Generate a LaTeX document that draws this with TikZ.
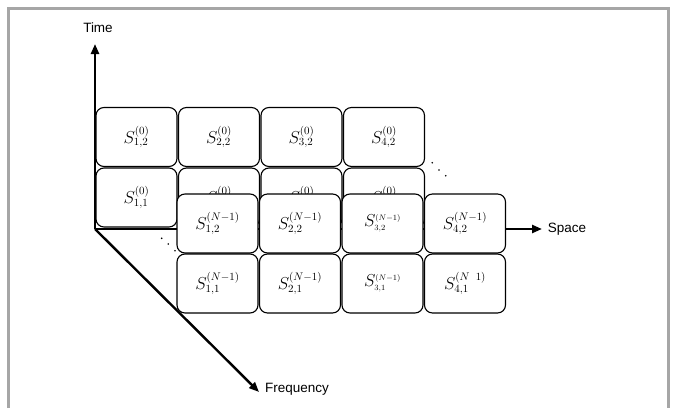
\documentclass[tikz,border=0pt]{standalone}
\usepackage{fontspec}
\newfontfamily\labelfont{Liberation Sans}
\usetikzlibrary{arrows.meta}
\begin{document}
\begin{tikzpicture}[x=1pt,y=-1pt,
  axis/.style={line width=2.4pt,-{Triangle[length=10pt,width=8pt]}},
  cell/.style={draw,fill=white,line width=1.1pt,rounded corners=8pt,
    minimum width=81pt,minimum height=59pt,inner sep=0pt,
    font=\fontsize{16}{18}\selectfont},
  axlabel/.style={font=\labelfont\fontsize{13.5}{15}\selectfont,inner sep=0pt},
  frame/.style={draw=black!35,line width=3pt},
  dot/.style={circle,fill=black,inner sep=0pt,minimum size=1.8pt}]
\useasboundingbox (0,0) rectangle (673,408);
% frame
\coordinate (fa) at (8,408);
\coordinate (fb) at (8,8);
\coordinate (fc) at (668,8);
\coordinate (fd) at (668,408);
\draw[frame] (fa) -- (fb) -- (fc) -- (fd);
% axes
\coordinate (O) at (95,229);
\coordinate (T) at (95,44);
\coordinate (Sp) at (542,229);
\coordinate (F) at (259,392);
\draw[axis] (O) -- (T);
\draw[axis] (O) -- (Sp);
\draw[axis] (O) -- (F);
\node[axlabel] (tl) at (98,28) {Time};
\node[axlabel] (sl) at (567,229) {Space};
\node[axlabel] (fl) at (297,389) {Frequency};
% back grid (0)
\node[cell] (b12) at (136.5,137) {$S^{(0)}_{1,2}$};
\node[cell] (b22) at (219,137) {$S^{(0)}_{2,2}$};
\node[cell] (b32) at (301.5,137) {$S^{(0)}_{3,2}$};
\node[cell] (b42) at (384,137) {$S^{(0)}_{4,2}$};
\node[cell] (b11) at (136.5,197.5) {$S^{(0)}_{1,1}$};
\node[cell] (b21) at (219,197.5) {\raisebox{5pt}{$S^{(0)}_{2,1}$}};
\node[cell] (b31) at (301.5,197.5) {\raisebox{5pt}{$S^{(0)}_{3,1}$}};
\node[cell] (b41) at (384,197.5) {\raisebox{5pt}{$S^{(0)}_{4,1}$}};
% dots
\node[dot] (d1) at (432.3,162.7) {};
\node[dot] (d2) at (439,170) {};
\node[dot] (d3) at (445.7,175.7) {};
\node[dot] (e1) at (161.7,238.3) {};
\node[dot] (e2) at (168.3,244) {};
\node[dot] (e3) at (175,250.7) {};
% front grid (N-1)
\node[cell] (f12) at (217.5,223.5) {$S^{(N-1)}_{1,2}$};
\node[cell] (f22) at (300,223.5) {$S^{(N-1)}_{2,2}$};
\node[cell] (f32) at (382.5,223.5) {$S^{\scriptscriptstyle (N-1)}_{\scriptscriptstyle 3,2\vphantom{(}}$};
\node[cell] (f42) at (465,223.5) {$S^{(N-1)}_{4,2}$};
\node[cell] (f11) at (217.5,283.5) {$S^{(N-1)}_{1,1}$};
\node[cell] (f21) at (300,283.5) {$S^{(N-1)}_{2,1}$};
\node[cell] (f31) at (382.5,283.5) {$S^{\scriptscriptstyle (N-1)}_{\scriptscriptstyle 3,1\vphantom{(}}$};
\node[cell] (f41) at (465,283.5) {$S^{(N\;\;1)}_{4,1}$};
\end{tikzpicture}
\end{document}
